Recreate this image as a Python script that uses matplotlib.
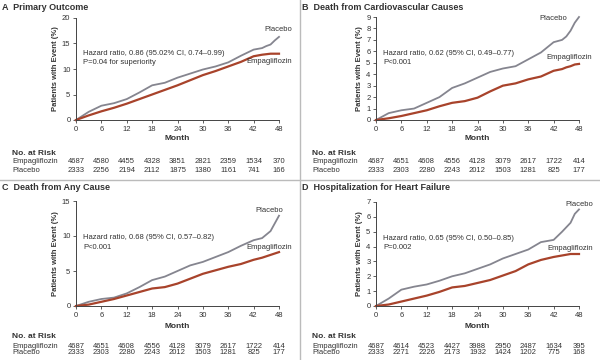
import matplotlib.pyplot as plt
from matplotlib.transforms import blended_transform_factory

plt.rcParams['font.family'] = ['Liberation Sans', 'DejaVu Sans']

months = [0, 3, 6, 9, 12, 15, 18, 21, 24, 27, 30, 33, 36, 39, 42, 44, 45, 46, 47, 48]
risk_months = [0, 6, 12, 18, 24, 30, 36, 42, 48]

# Panel A - primary outcome
a_placebo = [0, 1.6, 2.8, 3.3, 4.1, 5.4, 6.8, 7.3, 8.3, 9.1, 9.9, 10.5, 11.3, 12.6, 13.8, 14.1, 14.5, 14.8, 15.6, 16.3]
a_empa = [0, 0.9, 1.7, 2.4, 3.2, 4.1, 5.0, 5.9, 6.8, 7.8, 8.8, 9.6, 10.5, 11.4, 12.5, 12.8, 12.9, 13.0, 13.0, 13.0]
a_risk_empa = [4687, 4580, 4455, 4328, 3851, 2821, 2359, 1534, 370]
a_risk_plac = [2333, 2256, 2194, 2112, 1875, 1380, 1161, 741, 166]

# Panel B - cardiovascular death
b_placebo = [0, 0.6, 0.85, 1.0, 1.5, 2.0, 2.8, 3.2, 3.7, 4.2, 4.5, 4.7, 5.3, 5.9, 6.8, 7.0, 7.3, 7.8, 8.5, 9.0]
b_empa = [0, 0.15, 0.35, 0.6, 0.85, 1.2, 1.5, 1.65, 1.95, 2.5, 3.0, 3.2, 3.55, 3.8, 4.3, 4.45, 4.6, 4.7, 4.85, 4.9]
b_risk_empa = [4687, 4651, 4608, 4556, 4128, 3079, 2617, 1722, 414]
b_risk_plac = [2333, 2303, 2280, 2243, 2012, 1503, 1281, 825, 177]

# Panel C - death from any cause
c_placebo = [0, 0.6, 1.0, 1.2, 1.8, 2.7, 3.7, 4.2, 5.0, 5.8, 6.3, 7.0, 7.7, 8.6, 9.4, 9.7, 10.2, 10.7, 11.8, 12.9]
c_empa = [0, 0.2, 0.6, 1.0, 1.5, 2.0, 2.5, 2.7, 3.2, 3.9, 4.6, 5.1, 5.6, 6.0, 6.6, 6.9, 7.1, 7.3, 7.5, 7.7]
c_risk_empa = [4687, 4651, 4608, 4556, 4128, 3079, 2617, 1722, 414]
c_risk_plac = [2333, 2303, 2280, 2243, 2012, 1503, 1281, 825, 177]

# Panel D - hospitalization for heart failure
d_placebo = [0, 0.5, 1.1, 1.3, 1.45, 1.7, 2.0, 2.2, 2.5, 2.8, 3.2, 3.5, 3.8, 4.3, 4.45, 5.0, 5.3, 5.6, 6.2, 6.5]
d_empa = [0, 0.1, 0.3, 0.5, 0.7, 0.95, 1.25, 1.35, 1.55, 1.75, 2.05, 2.35, 2.8, 3.1, 3.3, 3.4, 3.45, 3.5, 3.5, 3.5]
d_risk_empa = [4687, 4614, 4523, 4427, 3988, 2950, 2487, 1634, 395]
d_risk_plac = [2333, 2271, 2226, 2173, 1932, 1424, 1202, 775, 168]

GRAY = '#85858f'
RED = '#a8432b'
TXT = '#333333'

W, H = 600, 360
fig = plt.figure(figsize=(6, 3.6), dpi=100)

# label offsets are in pixels (dx of right edge, dy of centre) from the curve end
panels = [
    dict(letter='A', title='Primary Outcome', pl=a_placebo, em=a_empa, re=a_risk_empa, rp=a_risk_plac,
         ymax=20, yticks=[0, 5, 10, 15, 20], hr='Hazard ratio, 0.86 (95.02% CI, 0.74\u20130.99)',
         p='P=0.04 for superiority', x0=76, top=18, bot=120, oy=0,
         poff=(13, 7), eoff=(13, -8), rows=(139, 153, 162, 170)),
    dict(letter='B', title='Death from Cardiovascular Causes', pl=b_placebo, em=b_empa, re=b_risk_empa, rp=b_risk_plac,
         ymax=9, yticks=list(range(10)), hr='Hazard ratio, 0.62 (95% CI, 0.49\u20130.77)',
         p='P<0.001', x0=376, top=17, bot=120, oy=0,
         poff=(-12, -2), eoff=(13, 6), rows=(139, 153, 162, 170)),
    dict(letter='C', title='Death from Any Cause', pl=c_placebo, em=c_empa, re=c_risk_empa, rp=c_risk_plac,
         ymax=15, yticks=[0, 5, 10, 15], hr='Hazard ratio, 0.68 (95% CI, 0.57\u20130.82)',
         p='P<0.001', x0=76, top=201, bot=306, oy=180,
         poff=(4, 5), eoff=(13, 5), rows=(326, 337, 346, 353)),
    dict(letter='D', title='Hospitalization for Heart Failure', pl=d_placebo, em=d_empa, re=d_risk_empa, rp=d_risk_plac,
         ymax=7, yticks=list(range(8)), hr='Hazard ratio, 0.65 (95% CI, 0.50\u20130.85)',
         p='P=0.002', x0=376, top=202, bot=306, oy=180,
         poff=(14, 5), eoff=(14, 6), rows=(326, 336, 346, 353)),
]

for p in panels:
    ax = fig.add_axes([p['x0'] / W, (H - p['bot']) / H, 203 / W, (p['bot'] - p['top']) / H])
    ax.plot(months, p['pl'], color=GRAY, lw=1.3, clip_on=False)
    ax.plot(months, p['em'], color=RED, lw=1.6, clip_on=False)
    ax.set_xlim(0, 48)
    ax.set_ylim(0, p['ymax'])
    ax.set_xticks(risk_months)
    ax.set_yticks(p['yticks'])
    for s in ['top', 'right']:
        ax.spines[s].set_visible(False)
    for s in ['left', 'bottom']:
        ax.spines[s].set_color('#444444')
        ax.spines[s].set_linewidth(0.7)
    ax.tick_params(labelsize=5.5, length=2.5, width=0.6, pad=1.5, colors='#444444', labelcolor=TXT)
    ax.set_ylabel('Patients with Event (%)', fontsize=5.5, fontweight='bold', color=TXT, labelpad=2)

    ax.text(0.035, 0.65, p['hr'], transform=ax.transAxes, fontsize=5.5, color=TXT, va='center')
    ax.text(0.035, 0.56, p['p'], transform=ax.transAxes, fontsize=5.5, color=TXT, va='center')
    pdx, pdy = p['poff']
    edx, edy = p['eoff']
    ax.annotate('Placebo', (months[-1], p['pl'][-1]), xytext=(pdx * 0.72, pdy * 0.72),
                textcoords='offset points', ha='right', va='center', fontsize=5.5, color=TXT)
    ax.annotate('Empagliflozin', (months[-1], p['em'][-1]), xytext=(edx * 0.72, edy * 0.72),
                textcoords='offset points', ha='right', va='center', fontsize=5.5, color=TXT)

    tr = blended_transform_factory(ax.transData, fig.transFigure)
    month_y, risk_y, empa_y, plac_y = [(H - v) / H for v in p['rows']]
    ax.text(24, month_y, 'Month', transform=tr, ha='center', va='center',
            fontsize=6, fontweight='bold', color=TXT)
    xl = p['x0'] - 64
    fig.text(xl / W, risk_y, 'No. at Risk', fontsize=6, fontweight='bold', color=TXT, va='center')
    fig.text(xl / W, empa_y, 'Empagliflozin', fontsize=5.5, color=TXT, va='center')
    fig.text(xl / W, plac_y, 'Placebo', fontsize=5.5, color=TXT, va='center')
    for m, ve, vp in zip(risk_months, p['re'], p['rp']):
        ax.text(m, empa_y, str(ve), transform=tr, ha='center', va='center', fontsize=5.5, color=TXT)
        ax.text(m, plac_y, str(vp), transform=tr, ha='center', va='center', fontsize=5.5, color=TXT)

    fig.text((p['x0'] - 74) / W, (H - p['oy'] - 7) / H, p['letter'] + '  ' + p['title'],
             fontsize=6.5, fontweight='bold', color=TXT, va='center')

# panel separators
fig.add_artist(plt.Line2D([0, 1], [0.5, 0.5], transform=fig.transFigure, color='#bbbbbb', lw=1))
fig.add_artist(plt.Line2D([0.5, 0.5], [0, 1], transform=fig.transFigure, color='#bbbbbb', lw=1))

fig.savefig('out.png', dpi=100, facecolor='white')
